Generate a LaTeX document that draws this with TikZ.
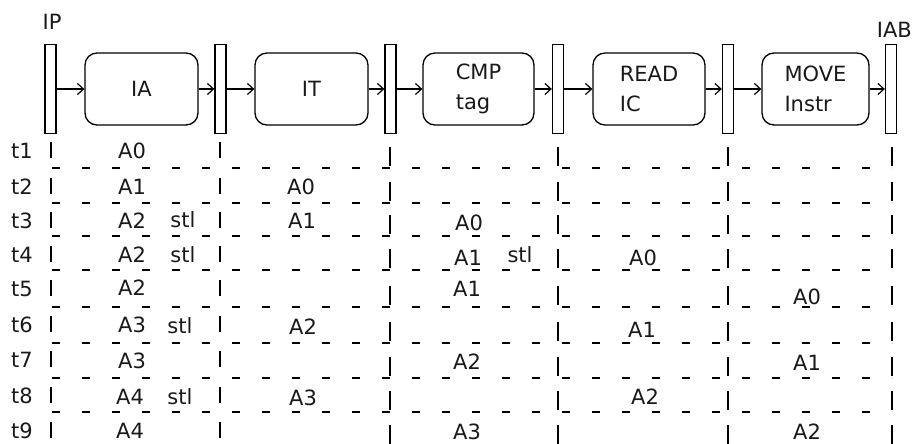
\documentclass[tikz,border=0pt]{standalone}
\usepackage{fontspec}
\setmainfont{DejaVu Sans}
\usetikzlibrary{arrows.meta}
\begin{document}
\begin{tikzpicture}[x=1pt,y=-1pt,
  reg/.style={draw, line width=1.3pt, minimum width=11pt, minimum height=89pt, inner sep=0pt},
  stage/.style={draw, line width=1.3pt, rounded corners=12pt, minimum height=72pt, inner sep=0pt, align=left, font=\fontsize{21}{30}\selectfont, text=black!90},
  lbl/.style={font=\fontsize{21}{24}\selectfont, inner sep=0pt, text=black!90},
  flow/.style={line width=1.2pt, -{Straight Barb[length=6pt,width=11pt]}},
  hgrid/.style={line width=1.3pt, dash pattern=on 8pt off 22pt},
  vgrid/.style={line width=1.3pt}]
\useasboundingbox (0,0) rectangle (913,444);
% pipeline registers
\node[reg] (ip)  at (50.5,89) {};
\node[reg] (r1)  at (220.5,89) {};
\node[reg] (r2)  at (390.5,89) {};
\node[reg] (r3)  at (558,89) {};
\node[reg] (r4)  at (728,89) {};
\node[reg] (iab) at (891,89) {};
\node[lbl] (lip) at (52,22) {IP};
\node[lbl, anchor=east] (liab) at (912,30) {IAB};
% stages
\node[stage, minimum width=113pt] (ia)  at (141.5,89) {IA};
\node[stage, minimum width=113pt] (it)  at (311.5,89) {IT};
\node[stage, minimum width=111pt] (cmp) at (478.5,89) {CMP\\tag};
\node[stage, minimum width=112pt] (rd)  at (649,89) {READ\\IC};
\node[stage, minimum width=107pt] (mv)  at (815.5,89) {MOVE\\Instr};
% flow arrows
\draw[flow] (ip.east) -- (ia.west);
\draw[flow] (ia.east) -- (r1.west);
\draw[flow] (r1.east) -- (it.west);
\draw[flow] (it.east) -- (r2.west);
\draw[flow] (r2.east) -- (cmp.west);
\draw[flow] (cmp.east) -- (r3.west);
\draw[flow] (r3.east) -- (rd.west);
\draw[flow] (rd.east) -- (r4.west);
\draw[flow] (r4.east) -- (mv.west);
\draw[flow] (mv.east) -- (iab.west);
% horizontal dashed separators
\foreach \y in {168,203,236,270,307,343,378,412}
  \draw[hgrid] (52,\y) -- (892,\y);
% vertical segments
\foreach \yc/\yl in {151/166,187/201,221/234,255/268,289/305,325/341,360/376,396/410,431/444}{
  \foreach \x in {51,220}
    \draw[vgrid] (\x,\yc-9) -- (\x,\yc+7);
  \foreach \x in {390,558,728,892}
    \draw[vgrid] (\x,\yl-19) -- (\x,\yl);
}
% row labels
\foreach \n/\yc in {1/151,2/187,3/221,4/255,5/289,6/325,7/360,8/396,9/431}
  \node[lbl] (t\n) at (22,\yc) {t\n};
% cell contents
\node[lbl] (c11) at (132,151) {A0};
\node[lbl] (c21) at (132,187) {A1};
\node[lbl] (c22) at (301,187) {A0};
\node[lbl] (c31) at (132,221) {A2};
\node[lbl] (s31) at (183,220) {stl};
\node[lbl] (c32) at (302,221) {A1};
\node[lbl] (c33) at (469,223) {A0};
\node[lbl] (c41) at (132,255) {A2};
\node[lbl] (s41) at (183,255) {stl};
\node[lbl] (c43) at (468,258) {A1};
\node[lbl] (s43) at (520,255) {stl};
\node[lbl] (c44) at (643,258) {A0};
\node[lbl] (c51) at (132,288) {A2};
\node[lbl] (c53) at (467,289) {A1};
\node[lbl] (c55) at (807,297) {A0};
\node[lbl] (c61) at (132,325) {A3};
\node[lbl] (s61) at (180,326) {stl};
\node[lbl] (c62) at (303,327) {A2};
\node[lbl] (c64) at (642,330) {A1};
\node[lbl] (c71) at (132,361) {A3};
\node[lbl] (c73) at (467,362) {A2};
\node[lbl] (c75) at (807,363) {A1};
\node[lbl] (c81) at (130,397) {A4};
\node[lbl] (s81) at (180,397) {stl};
\node[lbl] (c82) at (303,398) {A3};
\node[lbl] (c84) at (645,397) {A2};
\node[lbl] (c91) at (130,431) {A4};
\node[lbl] (c93) at (467,432) {A3};
\node[lbl] (c95) at (807,432) {A2};
\end{tikzpicture}
\end{document}
